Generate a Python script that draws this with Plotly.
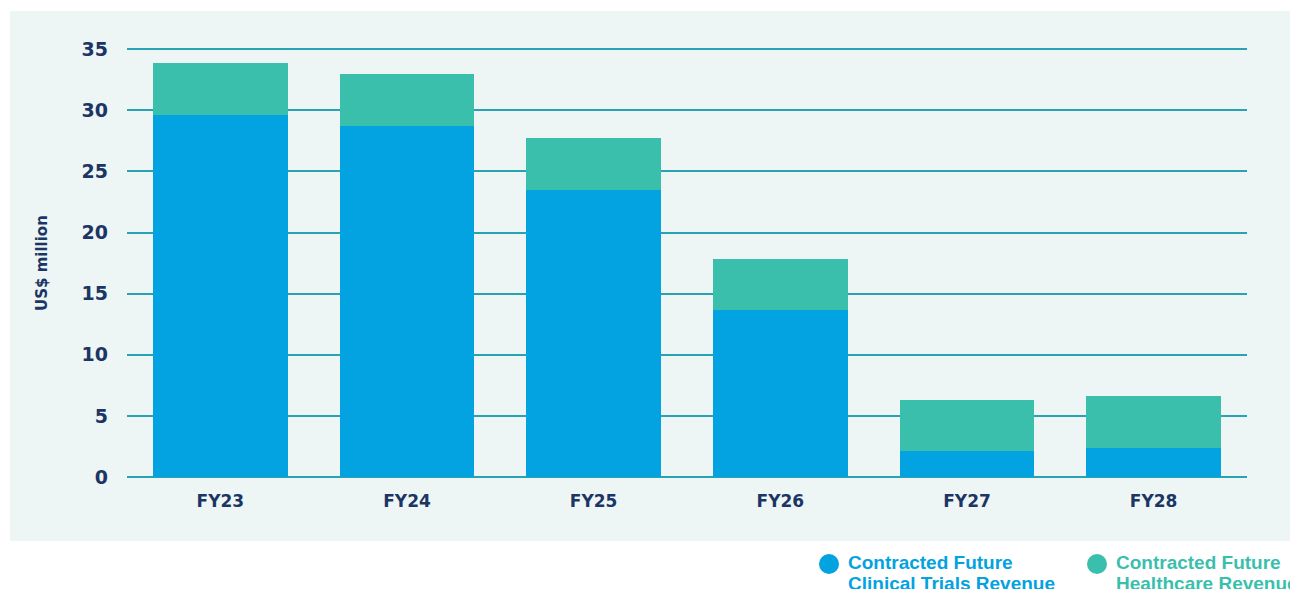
import plotly.graph_objects as go

years = ["FY23", "FY24", "FY25", "FY26", "FY27", "FY28"]
clinical = [29.6, 28.7, 23.5, 13.7, 2.1, 2.4]
healthcare = [4.3, 4.3, 4.2, 4.15, 4.2, 4.25]
y_ticks = [0, 5, 10, 15, 20, 25, 30, 35]
legend_names = [["Contracted Future", "Clinical Trials Revenue"],
                ["Contracted Future", "Healthcare Revenue"]]

BLUE = "#03A2E0"
TEAL = "#3BBFAD"
NAVY = "#1B3564"
GRID = "#27A3B4"
PANEL = "#EEF6F5"

W, H = 1290, 589
ML, MR, MT, MB = 127, 43, 48, 112
PW, PH = W - ML - MR, H - MT - MB


def px(x):
    return (x - ML) / PW


def py(y):
    return (H - MB - y) / PH


fig = go.Figure()
fig.add_trace(go.Bar(x=years, y=clinical, name=" ".join(legend_names[0]),
                     marker=dict(color=BLUE, line=dict(width=0))))
fig.add_trace(go.Bar(x=years, y=healthcare, name=" ".join(legend_names[1]),
                     marker=dict(color=TEAL, line=dict(width=0))))

shapes = [dict(type="rect", xref="paper", yref="paper", x0=px(10), x1=px(1300),
               y0=py(541), y1=py(11), fillcolor=PANEL, line=dict(width=0), layer="below")]
annotations = [dict(text="US$ million", xref="paper", yref="paper", x=px(42), y=py(263),
                    textangle=-90, showarrow=False, xanchor="center", yanchor="middle",
                    font=dict(family="DejaVu Sans", size=15, color=NAVY, weight="bold"))]

legend_pos = [(829, BLUE), (1097, TEAL)]
for (cx, col), names in zip(legend_pos, legend_names):
    shapes.append(dict(type="circle", xref="paper", yref="paper",
                       x0=px(cx - 10), x1=px(cx + 10), y0=py(574), y1=py(554),
                       fillcolor=col, line=dict(width=0)))
    for i, line in enumerate(names):
        annotations.append(dict(text=line, xref="paper", yref="paper", x=px(cx + 17),
                                y=py(562 + 21 * i), showarrow=False, xanchor="left",
                                yanchor="middle",
                                font=dict(family="Liberation Sans", size=19, color=col,
                                          weight="bold")))

fig.update_layout(
    width=W, height=H, barmode="stack", bargap=0.277, showlegend=False,
    margin=dict(l=ML, r=MR, t=MT, b=MB, pad=0),
    paper_bgcolor="white", plot_bgcolor="rgba(0,0,0,0)",
    shapes=shapes, annotations=annotations,
    xaxis=dict(showgrid=False, showline=False, ticks="",
               tickfont=dict(family="DejaVu Sans", size=17, color=NAVY, weight="bold"),
               ticklabelstandoff=12),
    yaxis=dict(range=[0, 35.1], tickvals=y_ticks, showgrid=True, gridcolor=GRID,
               gridwidth=1.5, zeroline=True, zerolinecolor=GRID, zerolinewidth=1.5,
               showline=False, ticks="",
               tickfont=dict(family="DejaVu Sans", size=19, color=NAVY, weight="bold"),
               ticklabelstandoff=18),
)

fig.write_html(
    "out.html",
    config={"displayModeBar": False},
    post_script="document.body.style.margin='0';document.body.style.overflow='hidden';",
)
